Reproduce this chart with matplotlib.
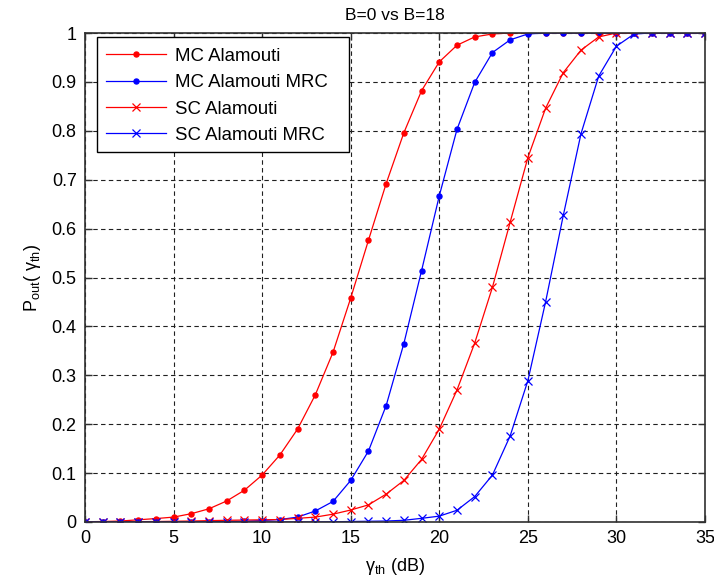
import matplotlib
matplotlib.use("Agg")
import matplotlib.pyplot as plt
from matplotlib.patches import Rectangle

plt.rcParams['font.family'] = ['Liberation Sans', 'DejaVu Sans']
plt.rcParams['mathtext.fontset'] = 'custom'
plt.rcParams['mathtext.rm'] = 'Liberation Sans'
plt.rcParams['mathtext.it'] = 'Liberation Sans:italic'

gamma_th = list(range(0, 36))

mc_alamouti = [0.0005, 0.001, 0.002, 0.0045, 0.007, 0.010, 0.017, 0.027, 0.043, 0.065,
               0.096, 0.137, 0.19, 0.26, 0.347, 0.458, 0.576, 0.692, 0.796, 0.882,
               0.941, 0.975, 0.992, 0.998, 1.0, 1.0, 1.0, 1.0, 1.0, 1.0,
               1.0, 1.0, 1.0, 1.0, 1.0, 1.0]
mc_alamouti_mrc = [0.0, 0.0, 0.0, 0.0, 0.0, 0.0002, 0.0003, 0.0005, 0.001, 0.0015,
                   0.003, 0.005, 0.010, 0.0225, 0.042, 0.085, 0.145, 0.238, 0.365, 0.514,
                   0.667, 0.803, 0.899, 0.960, 0.986, 0.998, 1.0, 1.0, 1.0, 1.0,
                   1.0, 1.0, 1.0, 1.0, 1.0, 1.0]
sc_alamouti = [0.0, 0.0002, 0.0004, 0.0007, 0.001, 0.0015, 0.002, 0.0028, 0.0035, 0.004,
               0.0045, 0.005, 0.0075, 0.010, 0.016, 0.0245, 0.035, 0.057, 0.085, 0.128,
               0.19, 0.27, 0.366, 0.48, 0.613, 0.745, 0.846, 0.919, 0.965, 0.992,
               1.0, 1.0, 1.0, 1.0, 1.0, 1.0]
sc_alamouti_mrc = [0.0, 0.0, 0.0, 0.0, 0.0, 0.0, 0.0, 0.0, 0.0, 0.0,
                   0.0, 0.0, 0.0, 0.0002, 0.0005, 0.001, 0.0015, 0.002, 0.0035, 0.0075,
                   0.012, 0.024, 0.052, 0.096, 0.176, 0.289, 0.45, 0.627, 0.794, 0.912,
                   0.973, 0.998, 1.0, 1.0, 1.0, 1.0]

labels = ['MC Alamouti', 'MC Alamouti MRC', 'SC Alamouti', 'SC Alamouti MRC']
xticks = [0, 5, 10, 15, 20, 25, 30, 35]
yticks = [0, 0.1, 0.2, 0.3, 0.4, 0.5, 0.6, 0.7, 0.8, 0.9, 1.0]
ytick_labels = ['0', '0.1', '0.2', '0.3', '0.4', '0.5', '0.6', '0.7', '0.8', '0.9', '1']

W, H = 714, 583
L, R, T, B = 85, 705, 33, 522
fig = plt.figure(figsize=(W/100, H/100), dpi=100)
ax = fig.add_axes([L/W, 1-B/H, (R-L)/W, (B-T)/H])

ax.plot(gamma_th, mc_alamouti, color='#ff0000', lw=0.9, marker='o', ms=3.6, label=labels[0])
ax.plot(gamma_th, mc_alamouti_mrc, color='#0000ff', lw=0.9, marker='o', ms=3.6, label=labels[1])
ax.plot(gamma_th, sc_alamouti, color='#ff0000', lw=0.9, marker='x', ms=5.5, mew=0.9, label=labels[2])
ax.plot(gamma_th, sc_alamouti_mrc, color='#0000ff', lw=0.9, marker='x', ms=5.5, mew=0.9, label=labels[3])

ax.set_xlim(0, 35)
ax.set_ylim(0, 1)
ax.set_xticks(xticks)
ax.set_yticks(yticks)
ax.set_yticklabels(ytick_labels)
ax.tick_params(direction='in', top=True, right=True, length=5, width=1, labelsize=13, color='#303030', pad=6)
for s in ax.spines.values():
    s.set_color('#303030')
    s.set_linewidth(1.2)
ax.grid(True, color='#202020', linestyle=(0, (4, 3)), linewidth=0.8)

ax.set_title('B=0 vs B=18', fontsize=12.5, pad=9)
ax.set_xlabel('γ$_{\\rm th}$ (dB)', fontsize=13, labelpad=6)
ax.set_ylabel('P$_{\\rm out}$( γ$_{\\rm th}$)', fontsize=13, labelpad=6)

# legend frame (box drawn separately to match the wider MATLAB legend box)
lx0, ly0, lx1, ly1 = 97, 37, 349, 152
frame = Rectangle(((lx0-L)/(R-L), (B-ly1)/(B-T)), (lx1-lx0)/(R-L), (ly1-ly0)/(B-T),
                  transform=ax.transAxes, facecolor='white', edgecolor='black',
                  linewidth=1.0, zorder=4)
ax.add_patch(frame)
leg = ax.legend(loc='upper left', bbox_to_anchor=((lx0-L)/(R-L), (B-38.5)/(B-T)), borderaxespad=0,
                fontsize=13.4, frameon=False,
                handlelength=3.2, handletextpad=0.48, labelspacing=0.5, borderpad=0.5)
leg.set_zorder(5)

fig.savefig('out.png', dpi=100)
